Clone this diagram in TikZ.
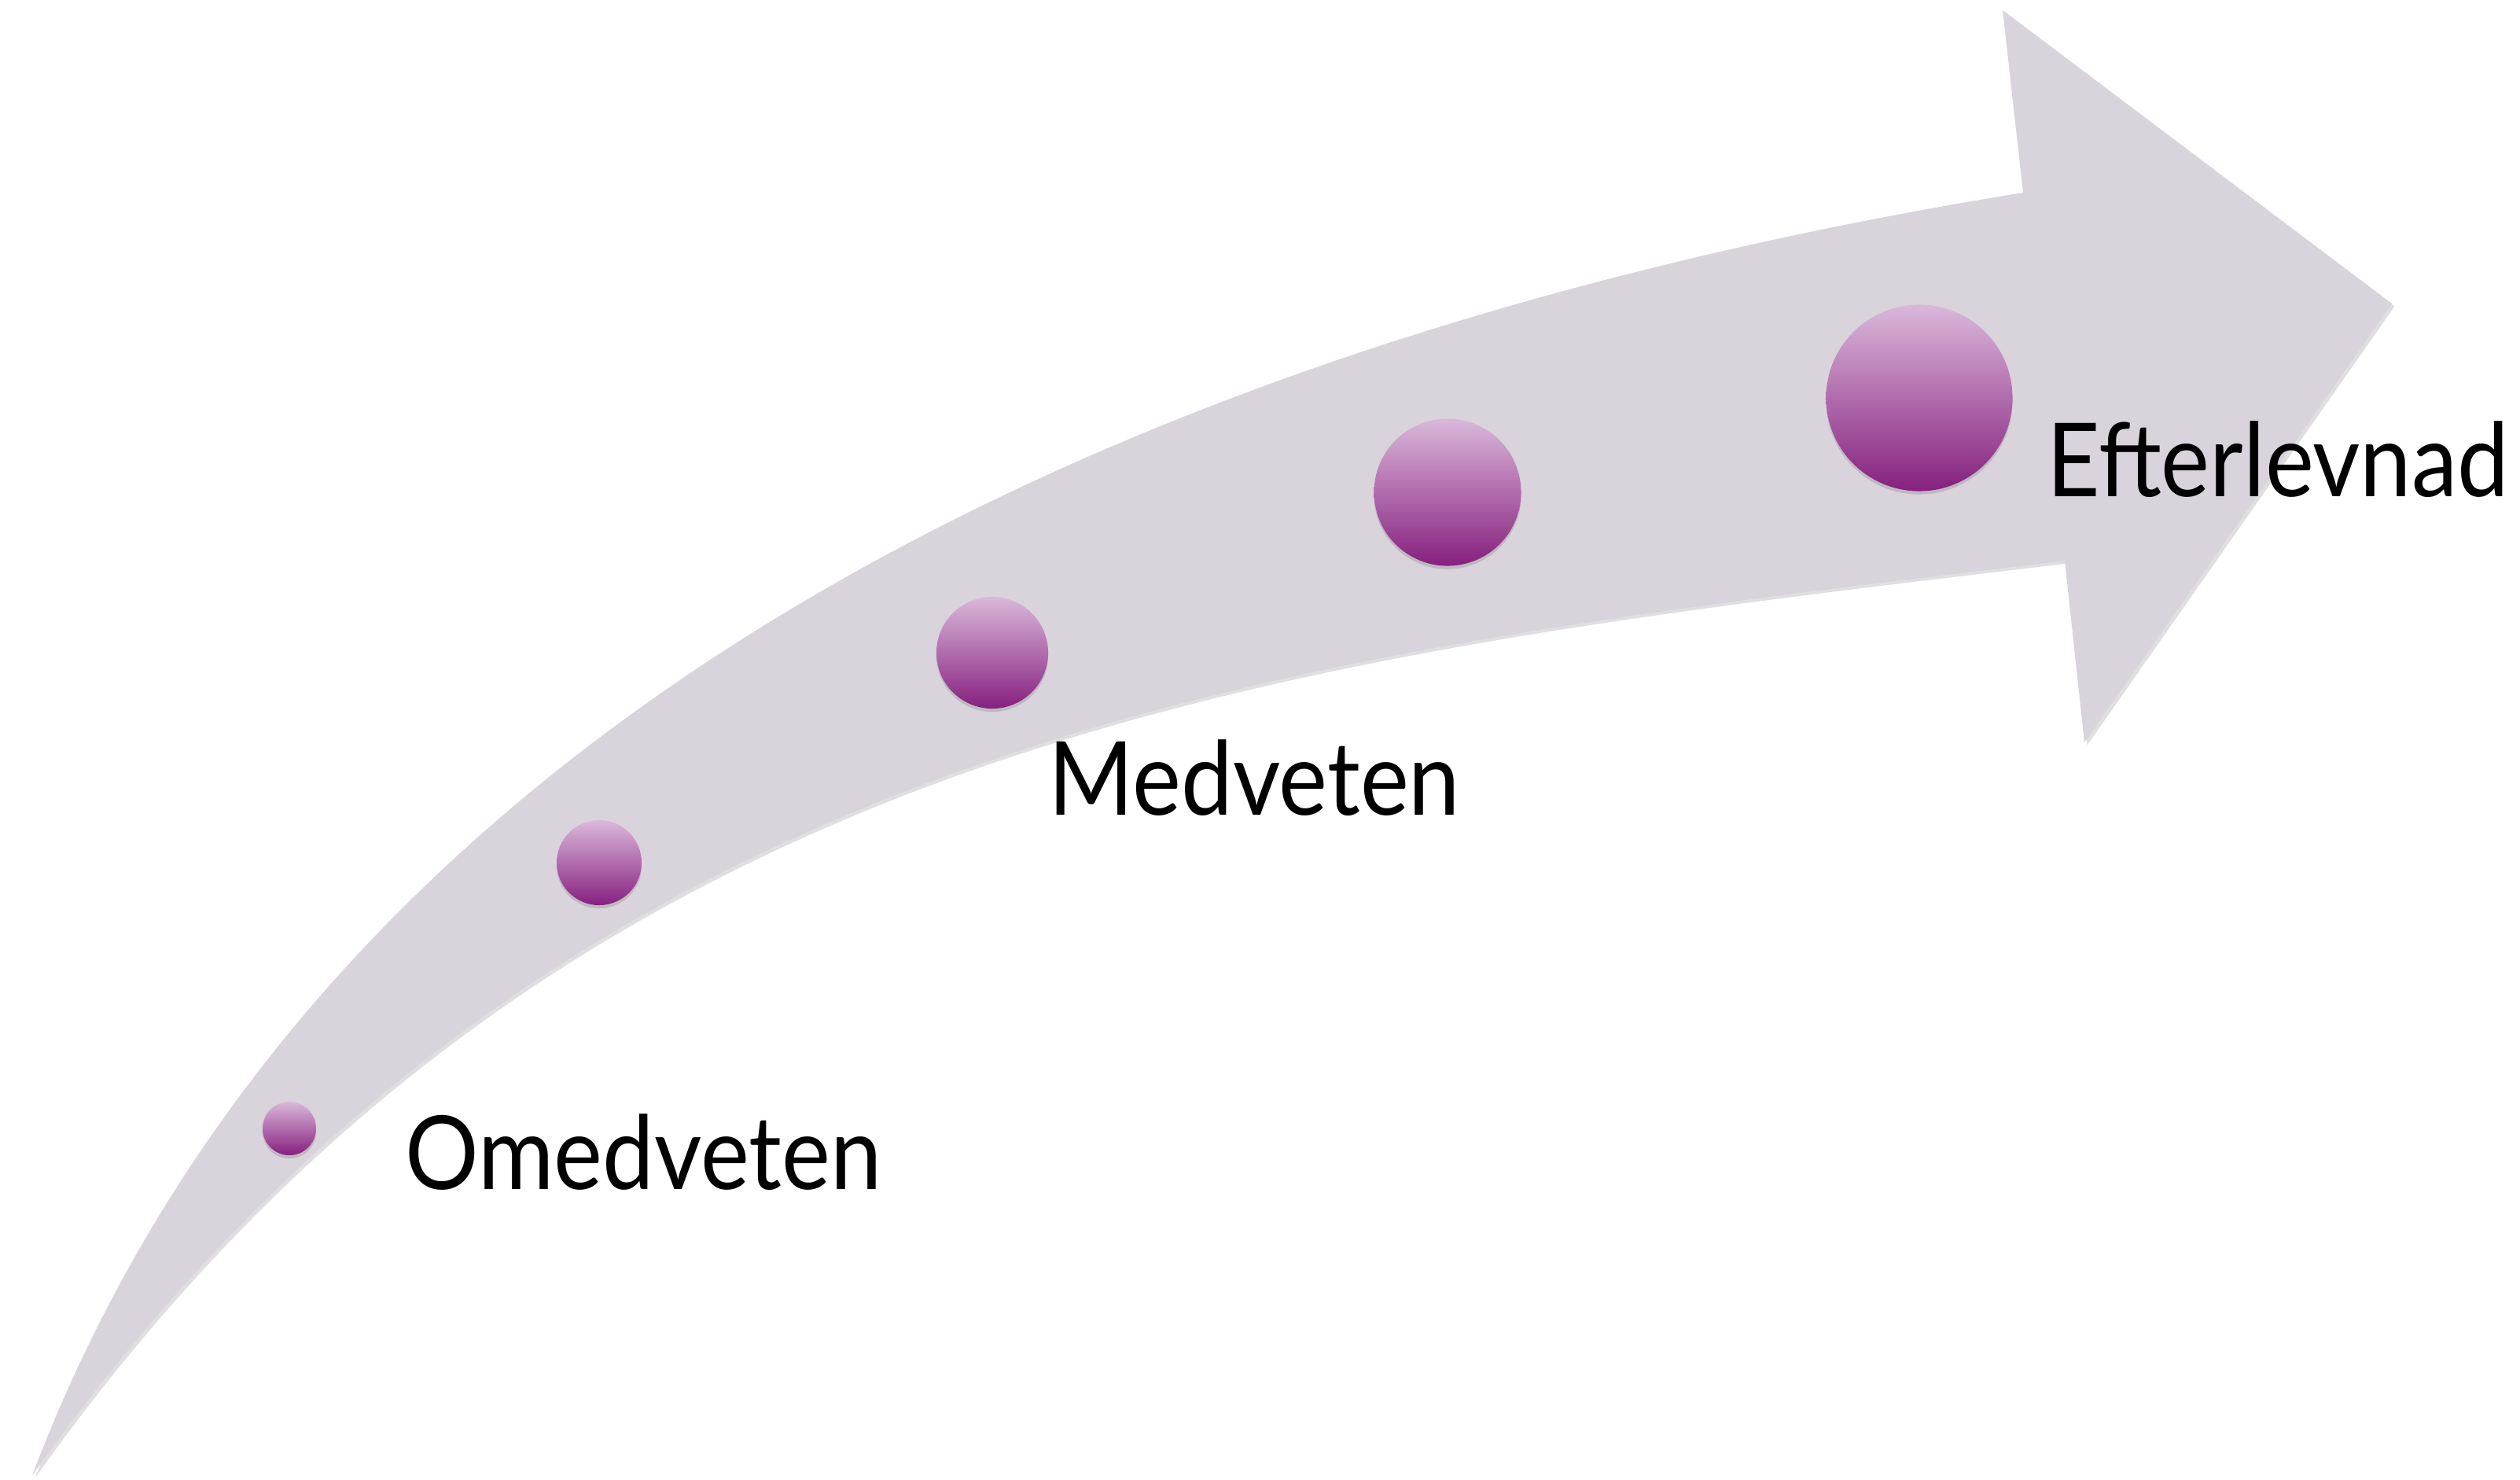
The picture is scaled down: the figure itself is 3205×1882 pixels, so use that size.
\documentclass[tikz,border=0pt]{standalone}
\usepackage{fontspec}
\setmainfont{Lato}[FakeStretch=0.9]
\usetikzlibrary{shadows,positioning}
\definecolor{Haze}{HTML}{D9D3DC}
\definecolor{Orchid}{HTML}{DBB8DA}
\definecolor{Plum}{HTML}{86207F}

\begin{document}
\begin{tikzpicture}[x=0.01cm,y=-0.01cm]
  \tikzset{bead/.style={circle,inner sep=0pt,top color=Orchid,bottom color=Plum,
             drop shadow={opacity=0.3,shadow xshift=0pt,shadow yshift=-1.2pt}},
           stage/.style={anchor=base west,inner sep=0pt,text=black,font=\fontsize{37}{42}\selectfont}}
  \useasboundingbox (0,0) rectangle (3205,1882);
  % curved arrow
  \fill[Haze,drop shadow={opacity=0.25,shadow xshift=1pt,shadow yshift=-1pt}]
    (41,1876) .. controls (430,850) and (1550,410) .. (2573,245)
    -- (2547,13) -- (3042,386) -- (2651,944) -- (2626,713)
    .. controls (1650,830) and (720,920) .. cycle;
  % beads
  \node[bead,minimum size=6.8mm] (b1) at (368,1435) {};
  \node[bead,minimum size=10.8mm] (b2) at (762,1097) {};
  \node[bead,minimum size=14.2mm] (b3) at (1262,830) {};
  \node[bead,minimum size=18.7mm] (b4) at (1841,626) {};
  \node[bead,minimum size=23.7mm] (b5) at (2441,506) {};
  % labels
  \node[stage] (omed) at (515,1512) {Omedveten};
  \node[stage] (med) at (1333,1036) {Medveten};
  \node[stage] (efter) at (2603,631) {Efterlevnad};
\end{tikzpicture}
\end{document}
